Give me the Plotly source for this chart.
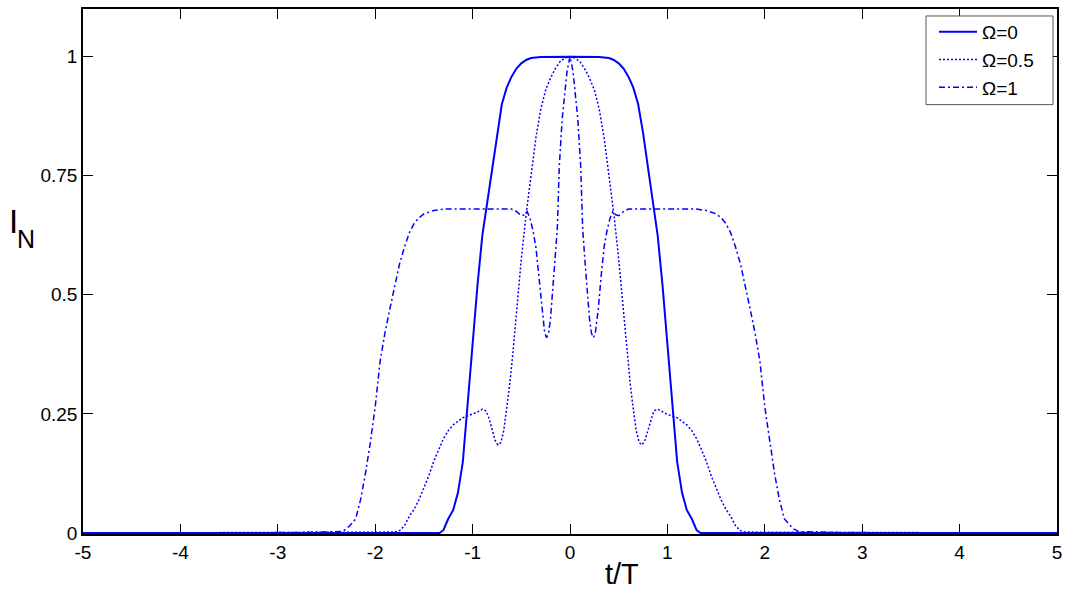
import plotly.graph_objects as go

# ---- data ----
t_omega0 = [-5, -1.34, -1.3, -1.25, -1.2, -1.15, -1.1, -1.05, -1.0, -0.95, -0.9, -0.85, -0.8,
            -0.75, -0.7, -0.65, -0.6, -0.55, -0.5, -0.45, -0.4, -0.3, 0,
            0.3, 0.4, 0.45, 0.5, 0.55, 0.6, 0.65, 0.7, 0.75, 0.8, 0.85, 0.9, 0.95, 1.0,
            1.05, 1.1, 1.15, 1.2, 1.25, 1.3, 1.34, 5]
i_omega0 = [0, 0, 0.006, 0.03, 0.048, 0.085, 0.15, 0.28, 0.39, 0.52, 0.625, 0.695, 0.765,
            0.84, 0.9, 0.935, 0.958, 0.975, 0.986, 0.993, 0.997, 0.999, 1.0,
            0.999, 0.997, 0.993, 0.986, 0.975, 0.958, 0.935, 0.9, 0.84, 0.765, 0.695, 0.625, 0.52, 0.39,
            0.28, 0.15, 0.085, 0.048, 0.03, 0.006, 0, 0]

t_omega05 = [-5, -2.8, -1.8, -1.75, -1.7, -1.65, -1.6, -1.55, -1.5, -1.45, -1.4, -1.35, -1.3,
             -1.25, -1.2, -1.1, -1.0, -0.95, -0.9, -0.86, -0.83, -0.8, -0.77, -0.74, -0.71,
             -0.68, -0.65, -0.62, -0.59, -0.55, -0.5, -0.45, -0.4, -0.35, -0.3, -0.25, -0.2,
             -0.15, -0.1, -0.05, 0,
             0.05, 0.1, 0.15, 0.2, 0.25, 0.3, 0.35, 0.4, 0.45, 0.5, 0.55, 0.59, 0.62, 0.65,
             0.68, 0.71, 0.74, 0.77, 0.8, 0.83, 0.86, 0.9, 0.95, 1.0, 1.1, 1.2, 1.25, 1.3,
             1.35, 1.4, 1.45, 1.5, 1.55, 1.6, 1.65, 1.7, 1.75, 1.8, 2.8, 5]
i_omega05 = [0, 0.001, 0.002, 0.005, 0.015, 0.035, 0.05, 0.07, 0.094, 0.12, 0.15, 0.175, 0.198,
             0.215, 0.227, 0.242, 0.249, 0.254, 0.26, 0.256, 0.24, 0.215, 0.195, 0.185, 0.19,
             0.215, 0.26, 0.31, 0.37, 0.46, 0.575, 0.67, 0.75, 0.83, 0.89, 0.93, 0.955,
             0.975, 0.99, 0.997, 1.0,
             0.997, 0.99, 0.975, 0.955, 0.93, 0.89, 0.83, 0.75, 0.67, 0.575, 0.46, 0.37, 0.31, 0.26,
             0.215, 0.19, 0.185, 0.195, 0.215, 0.24, 0.256, 0.26, 0.254, 0.249, 0.242, 0.227, 0.215, 0.198,
             0.175, 0.15, 0.12, 0.094, 0.07, 0.05, 0.035, 0.015, 0.005, 0.002, 0.001, 0]

t_omega1 = [-5, -2.8, -2.35, -2.3, -2.25, -2.2, -2.15, -2.1, -2.05, -2.0, -1.95, -1.9, -1.85,
            -1.8, -1.75, -1.7, -1.65, -1.6, -1.55, -1.5, -1.4, -1.3, -0.6, -0.55, -0.5, -0.47,
            -0.44, -0.41, -0.38, -0.35, -0.32, -0.29, -0.26, -0.24, -0.22, -0.2, -0.18, -0.15,
            -0.13, -0.11, -0.08, -0.05, -0.03, 0,
            0.03, 0.05, 0.08, 0.11, 0.13, 0.15, 0.18, 0.2, 0.22, 0.24, 0.26, 0.29, 0.32, 0.35,
            0.38, 0.41, 0.44, 0.47, 0.5, 0.55, 0.6, 1.3, 1.4, 1.5, 1.55, 1.6, 1.65, 1.7, 1.75,
            1.8, 1.85, 1.9, 1.95, 2.0, 2.05, 2.1, 2.15, 2.2, 2.25, 2.3, 2.35, 2.8, 5]
i_omega1 = [0, 0.001, 0.003, 0.008, 0.018, 0.03, 0.07, 0.125, 0.19, 0.265, 0.36, 0.42, 0.47,
            0.52, 0.565, 0.6, 0.63, 0.65, 0.662, 0.67, 0.677, 0.68, 0.68, 0.675, 0.666, 0.668,
            0.675, 0.66, 0.635, 0.6, 0.54, 0.47, 0.42, 0.41, 0.42, 0.45, 0.5, 0.58,
            0.64, 0.77, 0.87, 0.93, 0.97, 1.0,
            0.97, 0.93, 0.87, 0.77, 0.64, 0.58, 0.5, 0.45, 0.42, 0.41, 0.42, 0.47, 0.54, 0.6,
            0.635, 0.66, 0.675, 0.668, 0.666, 0.675, 0.68, 0.68, 0.677, 0.67, 0.662, 0.65, 0.63, 0.6, 0.565,
            0.52, 0.47, 0.42, 0.36, 0.265, 0.19, 0.125, 0.07, 0.03, 0.018, 0.008, 0.003, 0.001, 0]

x_ticks = [-5, -4, -3, -2, -1, 0, 1, 2, 3, 4, 5]
x_tick_labels = ["-5", "-4", "-3", "-2", "-1", "0", "1", "2", "3", "4", "5"]
y_ticks = [0, 0.25, 0.5, 0.75, 1]
y_tick_labels = ["0", "0.25", "0.5", "0.75", "1"]
series_names = ["Ω=0", "Ω=0.5", "Ω=1"]

BLUE = "rgb(0,0,255)"
FONT = "Liberation Sans, Arial, sans-serif"

# plot-area geometry in pixels (for placing annotations in paper coordinates)
L, R, T, B = 83, 16, 7, 57
W, H = 1073, 591
PW, PH = W - L - R, H - T - B


def px_x(px):
    return (px - L) / PW


def px_y(py):
    return (H - B - py) / PH


fig = go.Figure()
fig.add_trace(go.Scatter(x=t_omega0, y=i_omega0, mode="lines", name=series_names[0],
                         line=dict(color=BLUE, width=2, dash="solid")))
fig.add_trace(go.Scatter(x=t_omega05, y=i_omega05, mode="lines", name=series_names[1],
                         line=dict(color=BLUE, width=1.5, dash="2px,2px")))
fig.add_trace(go.Scatter(x=t_omega1, y=i_omega1, mode="lines", name=series_names[2],
                         line=dict(color=BLUE, width=1.5, dash="6px,3px,2px,3px")))

axis_common = dict(showline=True, linecolor="black", linewidth=1.5, mirror="ticks",
                   ticks="inside", ticklen=10, tickwidth=1.3, tickcolor="black",
                   showgrid=False, zeroline=False, layer="below traces",
                   tickfont=dict(family=FONT, size=19, color="black"))

fig.update_xaxes(range=[-5, 5], tickvals=x_ticks, ticktext=x_tick_labels, **axis_common)
fig.update_yaxes(range=[-0.002, 1.1], tickvals=y_ticks, ticktext=y_tick_labels, **axis_common)

fig.update_layout(
    width=W, height=H,
    margin=dict(l=L, r=R, t=T, b=B),
    plot_bgcolor="white", paper_bgcolor="white",
    showlegend=True,
    legend=dict(x=px_x(934), y=px_y(11), xanchor="left", yanchor="top",
                bgcolor="rgba(0,0,0,0)", borderwidth=0, itemwidth=38,
                font=dict(family=FONT, size=19, color="black")),
    shapes=[
        dict(type="rect", xref="paper", yref="paper",
             x0=px_x(926), x1=px_x(1053), y0=px_y(103), y1=px_y(14),
             line=dict(color="#555555", width=1), fillcolor="white", layer="above"),
    ],
    annotations=[
        dict(text="t/T", xref="paper", yref="paper", x=px_x(622), y=px_y(574),
             xanchor="center", yanchor="middle", showarrow=False,
             font=dict(family=FONT, size=29, color="black")),
        dict(text="I", xref="paper", yref="paper", x=px_x(13), y=px_y(220),
             xanchor="center", yanchor="middle", showarrow=False,
             font=dict(family=FONT, size=33, color="black")),
        dict(text="N", xref="paper", yref="paper", x=px_x(26), y=px_y(238),
             xanchor="center", yanchor="middle", showarrow=False,
             font=dict(family=FONT, size=25, color="black")),
    ],
)

fig.write_html("out.html", config={"displayModeBar": False},
               post_script="document.body.style.margin='0px';")
